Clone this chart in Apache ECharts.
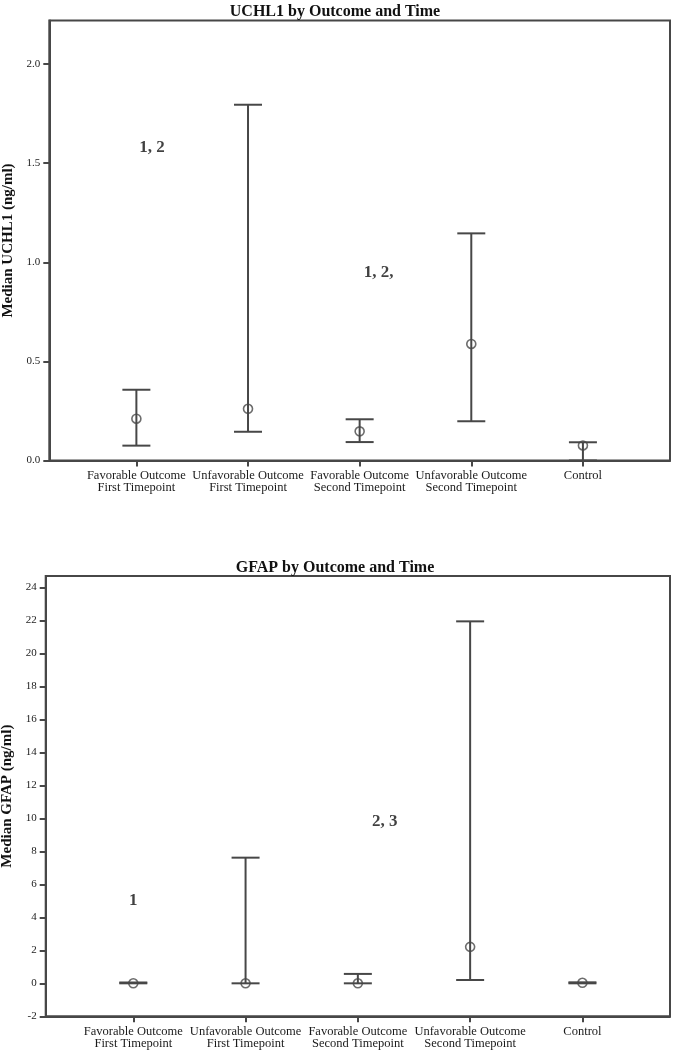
<!DOCTYPE html>
<html>
<head>
<meta charset="utf-8">
<script src="https://cdn.jsdelivr.net/npm/echarts@6/dist/echarts.min.js"></script>
<style>
html,body{margin:0;padding:0;background:#fff;}
#chart{width:681px;height:1050px;}
</style>
</head>
<body>
<div id="chart"></div>
<script>
// ---- data ----
const categories = [
  'Favorable Outcome\nFirst Timepoint',
  'Unfavorable Outcome\nFirst Timepoint',
  'Favorable Outcome\nSecond Timepoint',
  'Unfavorable Outcome\nSecond Timepoint',
  'Control'
];
const uchl1Median = [0.211, 0.261, 0.147, 0.588, 0.076];
const uchl1Low    = [0.075, 0.145, 0.093, 0.198, 0.0];
const uchl1High   = [0.357, 1.795, 0.208, 1.146, 0.092];
const uchl1Ticks  = [0, 0.5, 1.0, 1.5, 2.0];
const uchl1Notes  = [[0.14, 1.58, '1, 2'], [2.17, 0.95, '1, 2,']];

const gfapMedian = [0.0, 0.0, 0.0, 2.21, 0.03];
const gfapLow    = [0.0, 0.0, 0.0, 0.2, 0.0];
const gfapHigh   = [0.05, 7.62, 0.57, 21.95, 0.06];
const gfapTicks  = [-2, 0, 2, 4, 6, 8, 10, 12, 14, 16, 18, 20, 22, 24];
const gfapNotes  = [[0.0, 5.0, '1'], [2.24, 9.8, '2, 3']];

// ---- style ----
const FONT = "'Liberation Serif', 'DejaVu Serif', serif";
const LINE = '#474747';
const catIdx = categories.map((c, i) => i);

function xAxisFor(gridIndex) {
  return {
    type: 'value', gridIndex: gridIndex, min: -0.78, max: 4.78,
    axisLine: {show: true, onZero: false, lineStyle: {color: LINE, width: 2}},
    axisTick: {show: true, length: 6, customValues: catIdx, lineStyle: {color: LINE, width: 2}},
    axisLabel: {show: true, customValues: catIdx, margin: 9, fontFamily: FONT, fontSize: 12.5,
      color: '#1a1a1a', lineHeight: 12, formatter: v => categories[Math.round(v)]},
    splitLine: {show: false}
  };
}
function yAxisFor(gridIndex, min, max, ticks, name, dec, gap) {
  return {
    type: 'value', gridIndex: gridIndex, min: min, max: max,
    name: name, nameLocation: 'middle', nameGap: gap,
    nameTextStyle: {fontFamily: FONT, fontSize: 15, fontWeight: 'bold', color: '#111'},
    axisLine: {show: true, onZero: false, lineStyle: {color: LINE, width: 2}},
    axisTick: {show: true, length: 6, customValues: ticks, lineStyle: {color: LINE, width: 2}},
    axisLabel: {show: true, customValues: ticks, margin: 9, fontFamily: FONT, fontSize: 11,
      color: '#222', formatter: v => dec ? v.toFixed(1) : String(Math.round(v))},
    splitLine: {show: false}
  };
}
function errorBars(idx, low, high) {
  return {
    type: 'custom', xAxisIndex: idx, yAxisIndex: idx,
    data: low.map((l, i) => [i, l, high[i]]),
    renderItem: function (params, api) {
      const x = api.value(0);
      const lo = api.coord([x, api.value(1)]);
      const hi = api.coord([x, api.value(2)]);
      const hw = 14;
      const st = {stroke: LINE, lineWidth: 2};
      return {type: 'group', children: [
        {type: 'line', shape: {x1: lo[0], y1: lo[1], x2: hi[0], y2: hi[1]}, style: st},
        {type: 'line', shape: {x1: lo[0] - hw, y1: lo[1], x2: lo[0] + hw, y2: lo[1]}, style: st},
        {type: 'line', shape: {x1: hi[0] - hw, y1: hi[1], x2: hi[0] + hw, y2: hi[1]}, style: st}
      ]};
    },
    z: 2
  };
}
function medians(idx, med) {
  return {
    type: 'scatter', xAxisIndex: idx, yAxisIndex: idx,
    data: med.map((m, i) => [i, m]),
    symbol: 'circle', symbolSize: 9,
    itemStyle: {color: 'rgba(255,255,255,0)', borderColor: LINE, borderWidth: 1.6},
    z: 3
  };
}
function notes(idx, arr) {
  return {
    type: 'scatter', xAxisIndex: idx, yAxisIndex: idx,
    data: arr.map(n => ({value: [n[0], n[1]], name: n[2]})),
    symbolSize: 0,
    label: {show: true, position: 'inside', formatter: p => p.name,
      fontFamily: FONT, fontSize: 17, fontWeight: 'bold', color: '#111'},
    z: 4
  };
}

const chart = echarts.init(document.getElementById('chart'), null, {renderer: 'canvas'});
chart.setOption({
  backgroundColor: '#fff',
  animation: false,
  title: [
    {text: 'UCHL1 by Outcome and Time', left: 330, top: -1, textAlign: 'center',
      textStyle: {fontFamily: FONT, fontSize: 16, fontWeight: 'bold', color: '#111'}},
    {text: 'GFAP by Outcome and Time', left: 330, top: 555, textAlign: 'center',
      textStyle: {fontFamily: FONT, fontSize: 16, fontWeight: 'bold', color: '#111'}}
  ],
  grid: [
    {left: 49.3, top: 20.5, width: 620.7, height: 440, show: true, borderColor: LINE, borderWidth: 2,
      backgroundColor: '#fff', containLabel: false, outerBoundsMode: 'none'},
    {left: 45.7, top: 576, width: 624.3, height: 440.3, show: true, borderColor: LINE, borderWidth: 2,
      backgroundColor: '#fff', containLabel: false, outerBoundsMode: 'none'}
  ],
  xAxis: [xAxisFor(0), xAxisFor(1)],
  yAxis: [
    yAxisFor(0, 0, 2.22, uchl1Ticks, 'Median UCHL1 (ng/ml)', true, 33),
    yAxisFor(1, -2, 24.7, gfapTicks, 'Median GFAP (ng/ml)', false, 29)
  ],
  series: [
    errorBars(0, uchl1Low, uchl1High), medians(0, uchl1Median), notes(0, uchl1Notes),
    errorBars(1, gfapLow, gfapHigh), medians(1, gfapMedian), notes(1, gfapNotes)
  ]
});
</script>
</body>
</html>
